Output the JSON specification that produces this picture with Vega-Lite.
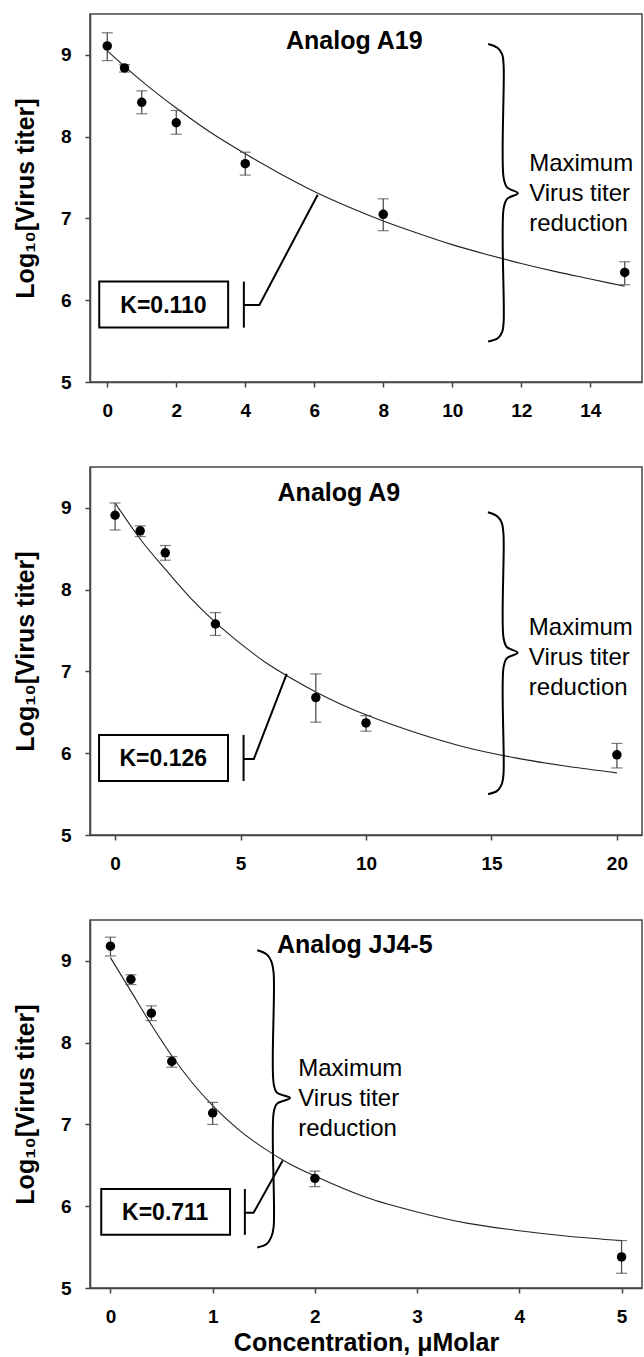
{
  "$schema": "https://vega.github.io/schema/vega-lite/v6.json",
  "padding": {"left": 12, "top": 13, "right": 0, "bottom": 0},
  "spacing": 45,
  "config": {
    "font": "Liberation Sans",
    "view": {"stroke": "#444", "strokeWidth": 1.5},
    "axis": {"grid": false, "domainColor": "#444", "domainWidth": 1.5, "tickColor": "#444", "tickWidth": 1.5, "tickSize": 5,
      "labelFont": "Liberation Sans", "labelFontWeight": "bold", "labelFontSize": 19, "labelColor": "black", "labelPadding": 14,
      "labelFlush": false, "labelOverlap": false, "format": "d",
      "titleFont": "Liberation Sans", "titleFontWeight": "bold", "titleFontSize": 25, "titleColor": "black"},
    "axisY": {"titlePadding": 22},
    "axisX": {"titlePadding": 4}
  },
  "datasets": {
    "pts": [
      {"panel": 1, "x": 0, "y": 9.11, "lo": 8.93, "hi": 9.27},
      {"panel": 1, "x": 0.5, "y": 8.84, "lo": 8.79, "hi": 8.88},
      {"panel": 1, "x": 1, "y": 8.42, "lo": 8.28, "hi": 8.56},
      {"panel": 1, "x": 2, "y": 8.17, "lo": 8.03, "hi": 8.32},
      {"panel": 1, "x": 4, "y": 7.67, "lo": 7.53, "hi": 7.81},
      {"panel": 1, "x": 8, "y": 7.05, "lo": 6.85, "hi": 7.24},
      {"panel": 1, "x": 15, "y": 6.34, "lo": 6.19, "hi": 6.47},
      {"panel": 2, "x": 0, "y": 8.91, "lo": 8.73, "hi": 9.06},
      {"panel": 2, "x": 1, "y": 8.72, "lo": 8.65, "hi": 8.78},
      {"panel": 2, "x": 2, "y": 8.45, "lo": 8.36, "hi": 8.54},
      {"panel": 2, "x": 4, "y": 7.58, "lo": 7.44, "hi": 7.72},
      {"panel": 2, "x": 8, "y": 6.68, "lo": 6.38, "hi": 6.97},
      {"panel": 2, "x": 10, "y": 6.37, "lo": 6.27, "hi": 6.46},
      {"panel": 2, "x": 20, "y": 5.98, "lo": 5.82, "hi": 6.12},
      {"panel": 3, "x": 0, "y": 9.18, "lo": 9.06, "hi": 9.29},
      {"panel": 3, "x": 0.2, "y": 8.775, "lo": 8.71, "hi": 8.83},
      {"panel": 3, "x": 0.4, "y": 8.36, "lo": 8.27, "hi": 8.45},
      {"panel": 3, "x": 0.6, "y": 7.77, "lo": 7.7, "hi": 7.83},
      {"panel": 3, "x": 1, "y": 7.14, "lo": 7.0, "hi": 7.27},
      {"panel": 3, "x": 2, "y": 6.34, "lo": 6.24, "hi": 6.43},
      {"panel": 3, "x": 5, "y": 5.38, "lo": 5.18, "hi": 5.58}
    ],
    "curve": [
      {"panel": 1, "x": 0, "y": 9.05}, {"panel": 1, "x": 1, "y": 8.68}, {"panel": 1, "x": 2, "y": 8.35}, {"panel": 1, "x": 3, "y": 8.05},
      {"panel": 1, "x": 4, "y": 7.79}, {"panel": 1, "x": 5, "y": 7.55}, {"panel": 1, "x": 6, "y": 7.33}, {"panel": 1, "x": 7, "y": 7.14},
      {"panel": 1, "x": 8, "y": 6.97}, {"panel": 1, "x": 9, "y": 6.82}, {"panel": 1, "x": 10, "y": 6.68}, {"panel": 1, "x": 11, "y": 6.56},
      {"panel": 1, "x": 12, "y": 6.45}, {"panel": 1, "x": 13, "y": 6.35}, {"panel": 1, "x": 14, "y": 6.26}, {"panel": 1, "x": 15, "y": 6.17},
      {"panel": 2, "x": 0, "y": 9.06}, {"panel": 2, "x": 1, "y": 8.62}, {"panel": 2, "x": 2, "y": 8.25}, {"panel": 2, "x": 3, "y": 7.9},
      {"panel": 2, "x": 4, "y": 7.6}, {"panel": 2, "x": 5, "y": 7.34}, {"panel": 2, "x": 6, "y": 7.11}, {"panel": 2, "x": 7, "y": 6.92},
      {"panel": 2, "x": 8, "y": 6.75}, {"panel": 2, "x": 9, "y": 6.6}, {"panel": 2, "x": 10, "y": 6.47}, {"panel": 2, "x": 12, "y": 6.25},
      {"panel": 2, "x": 14, "y": 6.07}, {"panel": 2, "x": 16, "y": 5.94}, {"panel": 2, "x": 18, "y": 5.84}, {"panel": 2, "x": 20, "y": 5.76},
      {"panel": 3, "x": 0, "y": 9.04}, {"panel": 3, "x": 0.2, "y": 8.63}, {"panel": 3, "x": 0.4, "y": 8.22}, {"panel": 3, "x": 0.6, "y": 7.84},
      {"panel": 3, "x": 0.8, "y": 7.51}, {"panel": 3, "x": 1, "y": 7.23}, {"panel": 3, "x": 1.25, "y": 6.94}, {"panel": 3, "x": 1.5, "y": 6.71},
      {"panel": 3, "x": 1.75, "y": 6.52}, {"panel": 3, "x": 2, "y": 6.37}, {"panel": 3, "x": 2.5, "y": 6.11}, {"panel": 3, "x": 3, "y": 5.93},
      {"panel": 3, "x": 3.5, "y": 5.79}, {"panel": 3, "x": 4, "y": 5.7}, {"panel": 3, "x": 4.5, "y": 5.63}, {"panel": 3, "x": 5, "y": 5.58}
    ],
    "brace": [
      {"panel": 1, "o": 0, "x": 11.04, "y": 9.133}, {"panel": 1, "o": 1, "x": 11.32, "y": 9.084}, {"panel": 1, "o": 2, "x": 11.45, "y": 9.003},
      {"panel": 1, "o": 3, "x": 11.49, "y": 8.86}, {"panel": 1, "o": 4, "x": 11.49, "y": 7.493}, {"panel": 1, "o": 5, "x": 11.59, "y": 7.379},
      {"panel": 1, "o": 6, "x": 11.9, "y": 7.309}, {"panel": 1, "o": 7, "x": 11.59, "y": 7.24}, {"panel": 1, "o": 8, "x": 11.49, "y": 7.125},
      {"panel": 1, "o": 9, "x": 11.49, "y": 5.739}, {"panel": 1, "o": 10, "x": 11.45, "y": 5.616}, {"panel": 1, "o": 11, "x": 11.32, "y": 5.534},
      {"panel": 1, "o": 12, "x": 11.04, "y": 5.494},
      {"panel": 2, "o": 0, "x": 14.86, "y": 8.947}, {"panel": 2, "o": 1, "x": 15.23, "y": 8.898}, {"panel": 2, "o": 2, "x": 15.41, "y": 8.816},
      {"panel": 2, "o": 3, "x": 15.48, "y": 8.675}, {"panel": 2, "o": 4, "x": 15.48, "y": 7.412}, {"panel": 2, "o": 5, "x": 15.61, "y": 7.299},
      {"panel": 2, "o": 6, "x": 16.04, "y": 7.229}, {"panel": 2, "o": 7, "x": 15.61, "y": 7.16}, {"panel": 2, "o": 8, "x": 15.48, "y": 7.046},
      {"panel": 2, "o": 9, "x": 15.48, "y": 5.744}, {"panel": 2, "o": 10, "x": 15.41, "y": 5.622}, {"panel": 2, "o": 11, "x": 15.23, "y": 5.54},
      {"panel": 2, "o": 12, "x": 14.86, "y": 5.5},
      {"panel": 3, "o": 0, "x": 1.436, "y": 9.13}, {"panel": 3, "o": 1, "x": 1.528, "y": 9.081}, {"panel": 3, "o": 2, "x": 1.572, "y": 8.999},
      {"panel": 3, "o": 3, "x": 1.596, "y": 8.856}, {"panel": 3, "o": 4, "x": 1.596, "y": 7.505}, {"panel": 3, "o": 5, "x": 1.628, "y": 7.39},
      {"panel": 3, "o": 6, "x": 1.757, "y": 7.322}, {"panel": 3, "o": 7, "x": 1.628, "y": 7.252}, {"panel": 3, "o": 8, "x": 1.596, "y": 7.138},
      {"panel": 3, "o": 9, "x": 1.596, "y": 5.741}, {"panel": 3, "o": 10, "x": 1.572, "y": 5.619}, {"panel": 3, "o": 11, "x": 1.528, "y": 5.538},
      {"panel": 3, "o": 12, "x": 1.436, "y": 5.496}
    ],
    "lead": [
      {"panel": 1, "seg": "a", "o": 0, "x": 3.96, "y": 6.228}, {"panel": 1, "seg": "a", "o": 1, "x": 3.96, "y": 5.665},
      {"panel": 1, "seg": "b", "o": 0, "x": 3.96, "y": 5.943}, {"panel": 1, "seg": "b", "o": 1, "x": 4.41, "y": 5.943}, {"panel": 1, "seg": "b", "o": 2, "x": 6.1, "y": 7.29},
      {"panel": 2, "seg": "a", "o": 0, "x": 5.12, "y": 6.224}, {"panel": 2, "seg": "a", "o": 1, "x": 5.12, "y": 5.66},
      {"panel": 2, "seg": "b", "o": 0, "x": 5.12, "y": 5.93}, {"panel": 2, "seg": "b", "o": 1, "x": 5.53, "y": 5.93}, {"panel": 2, "seg": "b", "o": 2, "x": 6.84, "y": 6.97},
      {"panel": 3, "seg": "a", "o": 0, "x": 1.315, "y": 6.21}, {"panel": 3, "seg": "a", "o": 1, "x": 1.315, "y": 5.65},
      {"panel": 3, "seg": "b", "o": 0, "x": 1.315, "y": 5.92}, {"panel": 3, "seg": "b", "o": 1, "x": 1.4, "y": 5.92}, {"panel": 3, "seg": "b", "o": 2, "x": 1.685, "y": 6.56}
    ],
    "kbox": [
      {"panel": 1, "x": -0.232, "x2": 3.504, "y": 6.228, "y2": 5.665},
      {"panel": 2, "x": -0.64, "x2": 4.5, "y": 6.224, "y2": 5.66},
      {"panel": 3, "x": -0.09, "x2": 1.17, "y": 6.21, "y2": 5.65}
    ],
    "txt": [
      {"panel": 1, "kind": "k", "x": 1.63, "y": 5.93, "label": "K=0.110"},
      {"panel": 2, "kind": "k", "x": 1.92, "y": 5.93, "label": "K=0.126"},
      {"panel": 3, "kind": "k", "x": 0.536, "y": 5.92, "label": "K=0.711"},
      {"panel": 1, "kind": "title", "x": 7.16, "y": 9.077, "label": "Analog A19"},
      {"panel": 2, "kind": "title", "x": 8.92, "y": 9.08, "label": "Analog A9"},
      {"panel": 3, "kind": "title", "x": 2.39, "y": 9.1, "label": "Analog JJ4-5"},
      {"panel": 1, "kind": "max", "x": 12.23, "y": 7.575, "label": "Maximum|Virus titer|reduction"},
      {"panel": 2, "kind": "max", "x": 16.49, "y": 7.445, "label": "Maximum|Virus titer|reduction"},
      {"panel": 3, "kind": "max", "x": 1.837, "y": 7.594, "label": "Maximum|Virus titer|reduction"}
    ]
  },
  "vconcat": [
    {
      "width": 552, "height": 368,
      "layer": [
        {"data": {"name": "curve"}, "transform": [{"filter": "datum.panel == 1"}],
          "mark": {"type": "line", "color": "#222", "strokeWidth": 1.1, "interpolate": "monotone"},
          "encoding": {
            "x": {"field": "x", "type": "quantitative", "scale": {"domain": [-0.5, 15.5], "nice": false, "zero": false}, "axis": {"values": [0, 2, 4, 6, 8, 10, 12, 14]}, "title": null},
            "y": {"field": "y", "type": "quantitative", "scale": {"domain": [5, 9.5], "nice": false, "zero": false}, "axis": {"values": [5, 6, 7, 8, 9]}, "title": "Log₁₀[Virus titer]"}}},
        {"data": {"name": "pts"}, "transform": [{"filter": "datum.panel == 1"}],
          "mark": {"type": "rule", "color": "#444", "strokeWidth": 1.2},
          "encoding": {"x": {"field": "x", "type": "quantitative"}, "y": {"field": "lo", "type": "quantitative"}, "y2": {"field": "hi"}}},
        {"data": {"name": "pts"}, "transform": [{"filter": "datum.panel == 1"}],
          "mark": {"type": "tick", "orient": "horizontal", "color": "#444", "size": 11, "thickness": 1.2},
          "encoding": {"x": {"field": "x", "type": "quantitative"}, "y": {"field": "lo", "type": "quantitative"}}},
        {"data": {"name": "pts"}, "transform": [{"filter": "datum.panel == 1"}],
          "mark": {"type": "tick", "orient": "horizontal", "color": "#444", "size": 11, "thickness": 1.2},
          "encoding": {"x": {"field": "x", "type": "quantitative"}, "y": {"field": "hi", "type": "quantitative"}}},
        {"data": {"name": "pts"}, "transform": [{"filter": "datum.panel == 1"}],
          "mark": {"type": "circle", "color": "black", "opacity": 1, "size": 90},
          "encoding": {"x": {"field": "x", "type": "quantitative"}, "y": {"field": "y", "type": "quantitative"}}},
        {"mark": {"type": "rule", "color": "black", "strokeWidth": 2.5, "strokeDash": [11, 7]},
          "encoding": {"y": {"datum": 5.5, "type": "quantitative"}}},
        {"data": {"name": "brace"}, "transform": [{"filter": "datum.panel == 1"}],
          "mark": {"type": "line", "color": "black", "strokeWidth": 2, "interpolate": "catmull-rom"},
          "encoding": {"x": {"field": "x", "type": "quantitative"}, "y": {"field": "y", "type": "quantitative"}, "order": {"field": "o"}}},
        {"data": {"name": "lead"}, "transform": [{"filter": "datum.panel == 1"}],
          "mark": {"type": "line", "color": "black", "strokeWidth": 2},
          "encoding": {"x": {"field": "x", "type": "quantitative"}, "y": {"field": "y", "type": "quantitative"}, "detail": {"field": "seg"}, "order": {"field": "o"}}},
        {"data": {"name": "kbox"}, "transform": [{"filter": "datum.panel == 1"}],
          "mark": {"type": "rect", "fill": "white", "stroke": "black", "strokeWidth": 2},
          "encoding": {"x": {"field": "x", "type": "quantitative"}, "x2": {"field": "x2"}, "y": {"field": "y", "type": "quantitative"}, "y2": {"field": "y2"}}},
        {"data": {"name": "txt"}, "transform": [{"filter": "datum.panel == 1 && datum.kind == 'k'"}],
          "mark": {"type": "text", "font": "Liberation Sans", "fontWeight": "bold", "fontSize": 23, "align": "center", "baseline": "middle", "color": "black"},
          "encoding": {"x": {"field": "x", "type": "quantitative"}, "y": {"field": "y", "type": "quantitative"}, "text": {"field": "label"}}},
        {"data": {"name": "txt"}, "transform": [{"filter": "datum.panel == 1 && datum.kind == 'title'"}],
          "mark": {"type": "text", "font": "Liberation Sans", "fontWeight": "bold", "fontSize": 25, "align": "center", "baseline": "alphabetic", "color": "black"},
          "encoding": {"x": {"field": "x", "type": "quantitative"}, "y": {"field": "y", "type": "quantitative"}, "text": {"field": "label"}}},
        {"data": {"name": "txt"}, "transform": [{"filter": "datum.panel == 1 && datum.kind == 'max'"}],
          "mark": {"type": "text", "font": "Liberation Sans", "fontSize": 24, "align": "left", "baseline": "alphabetic", "lineBreak": "|", "lineHeight": 30, "color": "black"},
          "encoding": {"x": {"field": "x", "type": "quantitative"}, "y": {"field": "y", "type": "quantitative"}, "text": {"field": "label"}}}
      ]
    },
    {
      "width": 552, "height": 368,
      "layer": [
        {"data": {"name": "curve"}, "transform": [{"filter": "datum.panel == 2"}],
          "mark": {"type": "line", "color": "#222", "strokeWidth": 1.1, "interpolate": "monotone"},
          "encoding": {
            "x": {"field": "x", "type": "quantitative", "scale": {"domain": [-1, 21], "nice": false, "zero": false}, "axis": {"values": [0, 5, 10, 15, 20]}, "title": null},
            "y": {"field": "y", "type": "quantitative", "scale": {"domain": [5, 9.5], "nice": false, "zero": false}, "axis": {"values": [5, 6, 7, 8, 9]}, "title": "Log₁₀[Virus titer]"}}},
        {"data": {"name": "pts"}, "transform": [{"filter": "datum.panel == 2"}],
          "mark": {"type": "rule", "color": "#444", "strokeWidth": 1.2},
          "encoding": {"x": {"field": "x", "type": "quantitative"}, "y": {"field": "lo", "type": "quantitative"}, "y2": {"field": "hi"}}},
        {"data": {"name": "pts"}, "transform": [{"filter": "datum.panel == 2"}],
          "mark": {"type": "tick", "orient": "horizontal", "color": "#444", "size": 11, "thickness": 1.2},
          "encoding": {"x": {"field": "x", "type": "quantitative"}, "y": {"field": "lo", "type": "quantitative"}}},
        {"data": {"name": "pts"}, "transform": [{"filter": "datum.panel == 2"}],
          "mark": {"type": "tick", "orient": "horizontal", "color": "#444", "size": 11, "thickness": 1.2},
          "encoding": {"x": {"field": "x", "type": "quantitative"}, "y": {"field": "hi", "type": "quantitative"}}},
        {"data": {"name": "pts"}, "transform": [{"filter": "datum.panel == 2"}],
          "mark": {"type": "circle", "color": "black", "opacity": 1, "size": 90},
          "encoding": {"x": {"field": "x", "type": "quantitative"}, "y": {"field": "y", "type": "quantitative"}}},
        {"mark": {"type": "rule", "color": "black", "strokeWidth": 2.5, "strokeDash": [11, 7]},
          "encoding": {"y": {"datum": 5.5, "type": "quantitative"}}},
        {"data": {"name": "brace"}, "transform": [{"filter": "datum.panel == 2"}],
          "mark": {"type": "line", "color": "black", "strokeWidth": 2, "interpolate": "catmull-rom"},
          "encoding": {"x": {"field": "x", "type": "quantitative"}, "y": {"field": "y", "type": "quantitative"}, "order": {"field": "o"}}},
        {"data": {"name": "lead"}, "transform": [{"filter": "datum.panel == 2"}],
          "mark": {"type": "line", "color": "black", "strokeWidth": 2},
          "encoding": {"x": {"field": "x", "type": "quantitative"}, "y": {"field": "y", "type": "quantitative"}, "detail": {"field": "seg"}, "order": {"field": "o"}}},
        {"data": {"name": "kbox"}, "transform": [{"filter": "datum.panel == 2"}],
          "mark": {"type": "rect", "fill": "white", "stroke": "black", "strokeWidth": 2},
          "encoding": {"x": {"field": "x", "type": "quantitative"}, "x2": {"field": "x2"}, "y": {"field": "y", "type": "quantitative"}, "y2": {"field": "y2"}}},
        {"data": {"name": "txt"}, "transform": [{"filter": "datum.panel == 2 && datum.kind == 'k'"}],
          "mark": {"type": "text", "font": "Liberation Sans", "fontWeight": "bold", "fontSize": 23, "align": "center", "baseline": "middle", "color": "black"},
          "encoding": {"x": {"field": "x", "type": "quantitative"}, "y": {"field": "y", "type": "quantitative"}, "text": {"field": "label"}}},
        {"data": {"name": "txt"}, "transform": [{"filter": "datum.panel == 2 && datum.kind == 'title'"}],
          "mark": {"type": "text", "font": "Liberation Sans", "fontWeight": "bold", "fontSize": 25, "align": "center", "baseline": "alphabetic", "color": "black"},
          "encoding": {"x": {"field": "x", "type": "quantitative"}, "y": {"field": "y", "type": "quantitative"}, "text": {"field": "label"}}},
        {"data": {"name": "txt"}, "transform": [{"filter": "datum.panel == 2 && datum.kind == 'max'"}],
          "mark": {"type": "text", "font": "Liberation Sans", "fontSize": 24, "align": "left", "baseline": "alphabetic", "lineBreak": "|", "lineHeight": 30, "color": "black"},
          "encoding": {"x": {"field": "x", "type": "quantitative"}, "y": {"field": "y", "type": "quantitative"}, "text": {"field": "label"}}}
      ]
    },
    {
      "width": 552, "height": 368,
      "layer": [
        {"data": {"name": "curve"}, "transform": [{"filter": "datum.panel == 3"}],
          "mark": {"type": "line", "color": "#222", "strokeWidth": 1.1, "interpolate": "monotone"},
          "encoding": {
            "x": {"field": "x", "type": "quantitative", "scale": {"domain": [-0.2, 5.2], "nice": false, "zero": false}, "axis": {"values": [0, 1, 2, 3, 4, 5]}, "title": "Concentration, μMolar"},
            "y": {"field": "y", "type": "quantitative", "scale": {"domain": [5, 9.5], "nice": false, "zero": false}, "axis": {"values": [5, 6, 7, 8, 9]}, "title": "Log₁₀[Virus titer]"}}},
        {"data": {"name": "pts"}, "transform": [{"filter": "datum.panel == 3"}],
          "mark": {"type": "rule", "color": "#444", "strokeWidth": 1.2},
          "encoding": {"x": {"field": "x", "type": "quantitative"}, "y": {"field": "lo", "type": "quantitative"}, "y2": {"field": "hi"}}},
        {"data": {"name": "pts"}, "transform": [{"filter": "datum.panel == 3"}],
          "mark": {"type": "tick", "orient": "horizontal", "color": "#444", "size": 11, "thickness": 1.2},
          "encoding": {"x": {"field": "x", "type": "quantitative"}, "y": {"field": "lo", "type": "quantitative"}}},
        {"data": {"name": "pts"}, "transform": [{"filter": "datum.panel == 3"}],
          "mark": {"type": "tick", "orient": "horizontal", "color": "#444", "size": 11, "thickness": 1.2},
          "encoding": {"x": {"field": "x", "type": "quantitative"}, "y": {"field": "hi", "type": "quantitative"}}},
        {"data": {"name": "pts"}, "transform": [{"filter": "datum.panel == 3"}],
          "mark": {"type": "circle", "color": "black", "opacity": 1, "size": 90},
          "encoding": {"x": {"field": "x", "type": "quantitative"}, "y": {"field": "y", "type": "quantitative"}}},
        {"mark": {"type": "rule", "color": "black", "strokeWidth": 2.5, "strokeDash": [11, 7]},
          "encoding": {"y": {"datum": 5.5, "type": "quantitative"}}},
        {"data": {"name": "brace"}, "transform": [{"filter": "datum.panel == 3"}],
          "mark": {"type": "line", "color": "black", "strokeWidth": 2, "interpolate": "catmull-rom"},
          "encoding": {"x": {"field": "x", "type": "quantitative"}, "y": {"field": "y", "type": "quantitative"}, "order": {"field": "o"}}},
        {"data": {"name": "lead"}, "transform": [{"filter": "datum.panel == 3"}],
          "mark": {"type": "line", "color": "black", "strokeWidth": 2},
          "encoding": {"x": {"field": "x", "type": "quantitative"}, "y": {"field": "y", "type": "quantitative"}, "detail": {"field": "seg"}, "order": {"field": "o"}}},
        {"data": {"name": "kbox"}, "transform": [{"filter": "datum.panel == 3"}],
          "mark": {"type": "rect", "fill": "white", "stroke": "black", "strokeWidth": 2},
          "encoding": {"x": {"field": "x", "type": "quantitative"}, "x2": {"field": "x2"}, "y": {"field": "y", "type": "quantitative"}, "y2": {"field": "y2"}}},
        {"data": {"name": "txt"}, "transform": [{"filter": "datum.panel == 3 && datum.kind == 'k'"}],
          "mark": {"type": "text", "font": "Liberation Sans", "fontWeight": "bold", "fontSize": 23, "align": "center", "baseline": "middle", "color": "black"},
          "encoding": {"x": {"field": "x", "type": "quantitative"}, "y": {"field": "y", "type": "quantitative"}, "text": {"field": "label"}}},
        {"data": {"name": "txt"}, "transform": [{"filter": "datum.panel == 3 && datum.kind == 'title'"}],
          "mark": {"type": "text", "font": "Liberation Sans", "fontWeight": "bold", "fontSize": 25, "align": "center", "baseline": "alphabetic", "color": "black"},
          "encoding": {"x": {"field": "x", "type": "quantitative"}, "y": {"field": "y", "type": "quantitative"}, "text": {"field": "label"}}},
        {"data": {"name": "txt"}, "transform": [{"filter": "datum.panel == 3 && datum.kind == 'max'"}],
          "mark": {"type": "text", "font": "Liberation Sans", "fontSize": 24, "align": "left", "baseline": "alphabetic", "lineBreak": "|", "lineHeight": 30, "color": "black"},
          "encoding": {"x": {"field": "x", "type": "quantitative"}, "y": {"field": "y", "type": "quantitative"}, "text": {"field": "label"}}}
      ]
    }
  ]
}
